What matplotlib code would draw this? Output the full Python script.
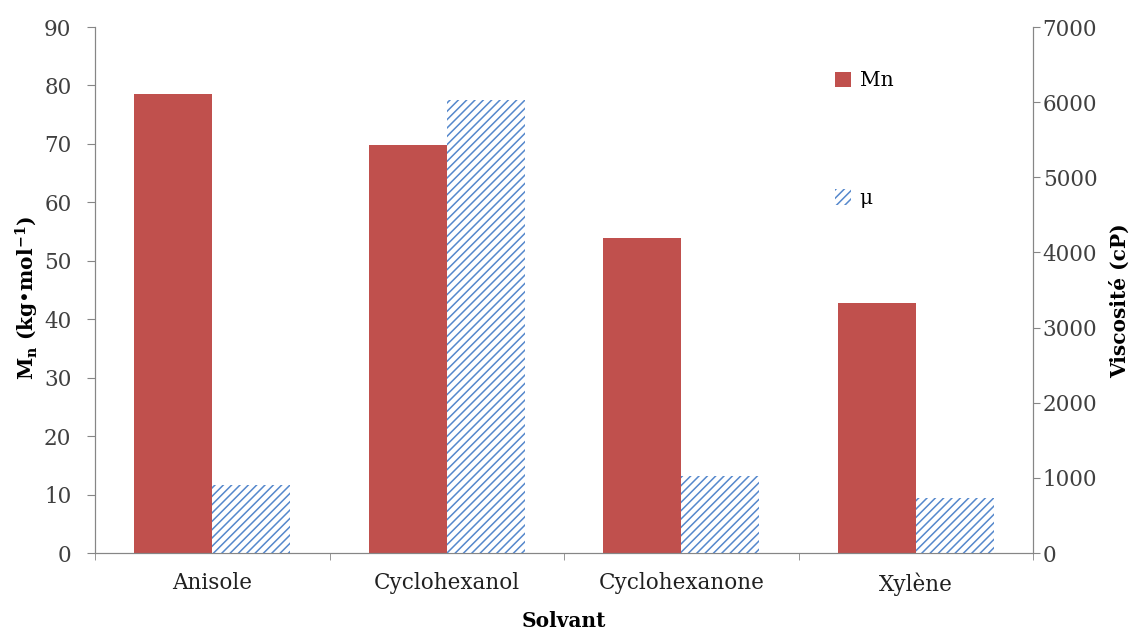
import matplotlib.pyplot as plt
import numpy as np

plt.rcParams['font.family'] = ['DejaVu Serif']
plt.rcParams['mathtext.fontset'] = 'dejavuserif'
plt.rcParams['hatch.linewidth'] = 1.1

solvants = ["Anisole", "Cyclohexanol", "Cyclohexanone", "Xylène"]
mn = [78.5, 69.8, 53.9, 42.8]
viscosite = [905, 6030, 1025, 730]

rouge = "#C0504D"
bleu = "#5588CC"
gris = "#868686"

fig = plt.figure(figsize=(11.41, 6.3), dpi=100)
ax = fig.add_axes([95 / 1141, 1 - 553 / 630, 938 / 1141, 526 / 630])
ax2 = ax.twinx()

x = np.arange(len(solvants))
w = 1 / 3
b1 = ax.bar(x - w / 2, mn, w, color=rouge, label="Mn")
b2 = ax2.bar(x + w / 2, viscosite, w, facecolor="white", edgecolor=bleu,
             hatch="////", linewidth=0, label="μ")

ax.set_xlim(-0.5, len(solvants) - 0.5)
ax.set_ylim(0, 90)
ax.set_yticks(np.arange(0, 91, 10))
ax2.set_ylim(0, 7000)
ax2.set_yticks(np.arange(0, 7001, 1000))

ax.set_xticks(x)
ax.set_xticklabels(solvants, fontsize=15.5)
ax.set_xticks(np.arange(-0.5, len(solvants)), minor=True)
ax.tick_params(axis="x", which="major", length=0, pad=14)
ax.tick_params(axis="x", which="minor", length=5, color=gris)
ax.tick_params(axis="y", labelsize=15.5, length=6, pad=11, color=gris,
               colors="#404040")
ax2.tick_params(axis="y", labelsize=15.5, length=5, pad=2, color=gris,
                colors="#404040")
for a in (ax, ax2):
    for s in a.spines.values():
        s.set_color(gris)
    a.spines["top"].set_visible(False)
for lbl in ax.get_xticklabels():
    lbl.set_color("#202020")

ax.set_xlabel("Solvant", fontsize=14.5, fontweight="bold")
ax.xaxis.set_label_coords(0.5, -(621 - 553) / 526)
ax.xaxis.label.set_va("center")
ax.set_ylabel(r"M$_\mathregular{n}$ (kg•mol$^\mathregular{-1}$)", fontsize=14.5,
              fontweight="bold")
ax.yaxis.label.set_va("center")
ax.yaxis.set_label_coords((27 - 95) / 938, (553 - 298) / 526)
ax2.set_ylabel("Viscosité (cP)", fontsize=14.5, fontweight="bold")
ax2.yaxis.label.set_va("center")
ax2.yaxis.set_label_coords((1120 - 95) / 938, (553 - 301) / 526)

ax2.legend([b1, b2], ["Mn", "μ"], loc="upper left", bbox_to_anchor=(0.77, 0.95),
           frameon=False, fontsize=14.5, labelspacing=4.9, handlelength=0.8,
           handleheight=0.8, handletextpad=0.4)

fig.savefig("out.png", dpi=100)
